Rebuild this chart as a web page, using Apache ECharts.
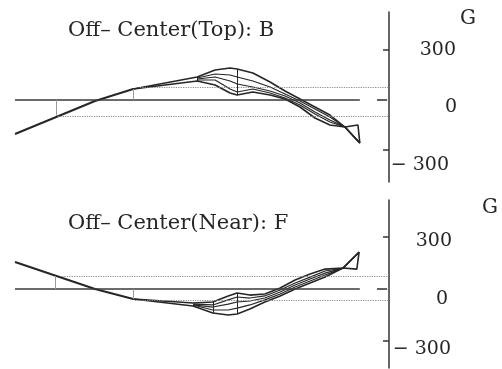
<!DOCTYPE html>
<html>
<head>
<meta charset="utf-8">
<script src="https://cdn.jsdelivr.net/npm/echarts@6/dist/echarts.min.js"></script>
<style>
  html, body { margin: 0; padding: 0; background: #fff; }
  #chart { width: 502px; height: 369px; }
</style>
</head>
<body>
<div id="chart"></div>
<script>
// titles
const topTitle = 'Off– Center(Top): B'
const bottomTitle = 'Off– Center(Near): F'
const tickValues = [-300, 0, 300]

// ---- top panel (B) ----
const topMainX = [0, 21.4, 31.6]
const topMainY = [-204, -6, 66]
const topX = [31.6, 48.7, 53.5, 57.5, 59.4, 63.6, 68.2, 72.2, 76.2, 80.2, 84.2, 88.2, 91.7, 92.2]
const topL1 = [66, 138, 180, 192, 186, 162, 108, 54, 6, -42, -90, -162, -150, -258]
const topL2 = [null, 132, 156, 150, 138, 114, 78, 36, -6, -54, -102, -162, null, -258]
const topL3 = [null, 126, 138, 114, 96, 78, 54, 24, -18, -72, -120, -162, null, -258]
const topL4 = [null, 120, 120, 66, 48, 66, 42, 12, -30, -84, -132, -162, null, -258]
const topL5 = [66, 114, 90, 42, 30, 48, 30, 6, -42, -108, -150, -162, null, -258]
const topBands = [78, -96]          // dotted limits
const topBandStart = [33.4, 11.5]
const topGuides = [[11, -96], [31.6, 66]]  // vertical guide x, end value
const topMesh = [1, 4]              // indices of vertical mesh lines

// ---- bottom panel (F) ----
const botMainX = [0, 21.4, 31.6]
const botMainY = [156, 0, -58]
const botX = [31.6, 47.6, 52.9, 57.0, 59.4, 62.8, 66.8, 70.9, 74.9, 78.9, 82.9, 87.7, 91.4, 92.0]
const botL1 = [-58, -81, -75, -40, -23, -35, -29, 6, 52, 87, 115, 121, null, 213]
const botL2 = [null, -87, -92, -63, -46, -52, -40, -6, 35, 69, 104, 121, null, 213]
const botL3 = [null, -92, -104, -87, -75, -69, -52, -17, 23, 58, 92, 121, null, 213]
const botL4 = [null, -92, -121, -121, -110, -92, -63, -29, 12, 46, 81, 121, null, 213]
const botL5 = [-58, -98, -138, -150, -144, -115, -75, -40, 0, 35, 69, 121, 115, 213]
const botBands = [75, -63]
const botBandStart = [12.6, 32.1]
const botGuides = [[10.7, 75], [31.6, -58]]
const botMesh = [2, 4]

const zeroSegs = [[0, 92.2], [96.8, 99.5]]

const chart = echarts.init(document.getElementById('chart'))
const serif = 'DejaVu Serif, Liberation Serif, serif'
const ink = '#262626'

const pts = (xs, ys) => xs.map((x, i) => [x, ys[i]]).filter(p => p[1] !== null)

const refLines = (bands, bandStart, guides, xs, lines, mesh) => {
  const d = []
  zeroSegs.forEach(s => d.push([{ coord: [s[0], 0], lineStyle: { color: '#3a3a3a', width: 1.6, type: 'solid' } }, { coord: [s[1], 0] }]))
  bands.forEach((b, i) => d.push([{ coord: [bandStart[i], b], lineStyle: { color: '#8a8a8a', width: 1.2, type: 'dotted' } }, { coord: [100, b] }]))
  guides.forEach(g => d.push([{ coord: [g[0], 0], lineStyle: { color: '#9a9a9a', width: 1, type: 'solid' } }, { coord: [g[0], g[1]] }]))
  mesh.forEach(i => {
    const vals = lines.map(l => l[i]).filter(v => v !== null)
    d.push([{ coord: [xs[i], Math.max(...vals)], lineStyle: { color: ink, width: 1, type: 'solid' } }, { coord: [xs[i], Math.min(...vals)] }])
  })
  return { silent: true, symbol: 'none', label: { show: false }, data: d }
}

const lineSeries = (name, xs, ys, idx, width) => ({
  name, type: 'line', xAxisIndex: idx, yAxisIndex: idx,
  data: pts(xs, ys), showSymbol: false, silent: true,
  lineStyle: { color: ink, width: width }
})

const yAxisCfg = (idx, min, max, margin, rich) => ({
  type: 'value', gridIndex: idx, position: 'right', min, max,
  splitLine: { show: false },
  axisLine: { show: true, onZero: false, lineStyle: { color: '#333', width: 1.5 } },
  axisTick: { show: true, inside: true, length: 6, customValues: [-300, 300], lineStyle: { color: '#333', width: 1.5 } },
  axisLabel: {
    customValues: tickValues, align: 'right', margin,
    formatter: v => v === 300 ? '{a|300}' : v === 0 ? '{b|0}' : '{c|− 300}',
    rich
  }
})

const rs = (pad) => ({ fontFamily: serif, fontSize: 19, color: ink, padding: pad })

const option = {
  backgroundColor: '#fff',
  animation: false,
  grid: [
    { left: 15, right: 113, top: 12, height: 170 },
    { left: 15, right: 113, top: 200, height: 168 }
  ],
  xAxis: [
    { type: 'value', gridIndex: 0, min: 0, max: 100, show: false },
    { type: 'value', gridIndex: 1, min: 0, max: 100, show: false }
  ],
  yAxis: [
    yAxisCfg(0, -492, 528, 68, { a: rs([0, 1, 0, 0]), b: rs([14, 0, 0, 0]), c: rs([30, 8, 0, 0]) }),
    yAxisCfg(1, -456, 514, 63, { a: rs([8, 0, 0, 0]), b: rs([20, 4, 0, 0]), c: rs([16, 1, 0, 0]) })
  ],
  graphic: [
    { type: 'text', left: 68, top: 20, style: { text: topTitle, font: '21px ' + serif, fill: ink } },
    { type: 'text', left: 68, top: 213, style: { text: bottomTitle, font: '21px ' + serif, fill: ink } },
    { type: 'text', left: 460, top: 9, style: { text: 'G', font: '20px ' + serif, fill: ink } },
    { type: 'text', left: 482, top: 198, style: { text: 'G', font: '20px ' + serif, fill: ink } }
  ],
  series: [
    Object.assign(lineSeries('topMain', topMainX, topMainY, 0, 2),
      { markLine: refLines(topBands, topBandStart, topGuides, topX, [topL1, topL2, topL3, topL4, topL5], topMesh) }),
    lineSeries('topL1', topX, topL1, 0, 1.6),
    lineSeries('topL2', topX, topL2, 0, 1.2),
    lineSeries('topL3', topX, topL3, 0, 1.2),
    lineSeries('topL4', topX, topL4, 0, 1.2),
    lineSeries('topL5', topX, topL5, 0, 1.6),
    Object.assign(lineSeries('botMain', botMainX, botMainY, 1, 2),
      { markLine: refLines(botBands, botBandStart, botGuides, botX, [botL1, botL2, botL3, botL4, botL5], botMesh) }),
    lineSeries('botL1', botX, botL1, 1, 1.6),
    lineSeries('botL2', botX, botL2, 1, 1.2),
    lineSeries('botL3', botX, botL3, 1, 1.2),
    lineSeries('botL4', botX, botL4, 1, 1.2),
    lineSeries('botL5', botX, botL5, 1, 1.6)
  ]
}

chart.setOption(option)
</script>
</body>
</html>
